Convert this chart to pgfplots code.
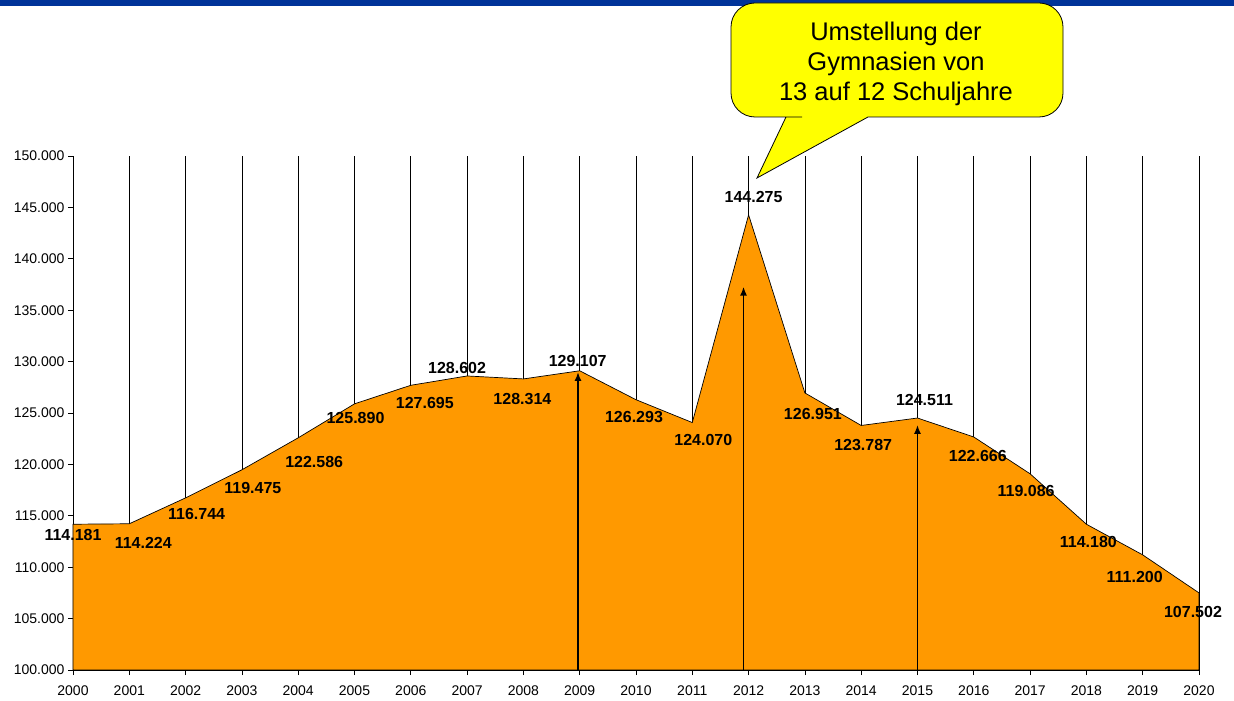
\documentclass[border=0pt]{standalone}
\usepackage{pgfplots}
\pgfplotsset{compat=1.18}
\usepackage{fontspec}
\setmainfont{Liberation Sans}
\usetikzlibrary{arrows.meta}
\definecolor{areaorange}{HTML}{FF9900}
\definecolor{calloutyellow}{HTML}{FFFF00}
\definecolor{topblue}{HTML}{003399}
\newcommand{\lbl}{\fontsize{16}{18}\selectfont\bfseries}

\begin{document}
\begin{tikzpicture}
\useasboundingbox (-73pt,-31pt) rectangle (1161pt,670pt);
\fill[topblue] (-73pt,664pt) rectangle (1161pt,670pt);
\begin{axis}[
  at={(0pt,0pt)}, anchor=south west,
  scale only axis, width=1126pt, height=514pt,
  xmin=2000, xmax=2020, ymin=100000, ymax=150000,
  xtick={2000,2001,...,2020},
  ytick={100000,105000,...,150000},
  scaled y ticks=false,
  axis lines=left,
  axis line style={-, black, line width=0.8pt},
  tick align=outside,
  major tick length=5pt,
  tick style={black, line width=0.6pt},
  xmajorgrids,
  grid style={black, line width=0.6pt},
  x tick label style={font=\fontsize{14}{16}\selectfont, yshift=-7pt, /pgf/number format/1000 sep={}, /pgf/number format/assume math mode=true},
  y tick label style={font=\fontsize{14}{16}\selectfont, /pgf/number format/fixed, /pgf/number format/1000 sep={.}, /pgf/number format/min exponent for 1000 sep=0, /pgf/number format/assume math mode=true},
  clip=false,
]
\addplot[fill=areaorange, draw=black, line width=0.7pt] coordinates {
(2000,114181) (2001,114224) (2002,116744) (2003,119475) (2004,122586)
(2005,125890) (2006,127695) (2007,128602) (2008,128314) (2009,129107)
(2010,126293) (2011,124070) (2012,144275) (2013,126951) (2014,123787)
(2015,124511) (2016,122666) (2017,119086) (2018,114180) (2019,111200)
(2020,107502)} \closedcycle;

\addplot[black, line width=1.8pt, -{Latex[length=9pt,width=7pt]}] coordinates {(2008.97,100000) (2008.97,129000)};
\addplot[black, line width=1.8pt, -{Latex[length=9pt,width=7pt]}] coordinates {(2011.91,100000) (2011.91,137300)};
\addplot[black, line width=1.8pt, -{Latex[length=9pt,width=7pt]}] coordinates {(2015.0,100000) (2015.0,123850)};

\node[font=\lbl, xshift=0pt,  yshift=-11pt] at (axis cs:2000,114181) {114.181};
\node[font=\lbl, xshift=14pt, yshift=-19pt] at (axis cs:2001,114224) {114.224};
\node[font=\lbl, xshift=11pt, yshift=-16pt] at (axis cs:2002,116744) {116.744};
\node[font=\lbl, xshift=11pt, yshift=-18pt] at (axis cs:2003,119475) {119.475};
\node[font=\lbl, xshift=16pt, yshift=-24pt] at (axis cs:2004,122586) {122.586};
\node[font=\lbl, xshift=1pt,  yshift=-14pt] at (axis cs:2005,125890) {125.890};
\node[font=\lbl, xshift=14pt, yshift=-18pt] at (axis cs:2006,127695) {127.695};
\node[font=\lbl, xshift=-10pt,yshift=8pt]   at (axis cs:2007,128602) {128.602};
\node[font=\lbl, xshift=-1pt, yshift=-20pt] at (axis cs:2008,128314) {128.314};
\node[font=\lbl, xshift=-2pt, yshift=10pt]  at (axis cs:2009,129107) {129.107};
\node[font=\lbl, xshift=-2pt, yshift=-17pt] at (axis cs:2010,126293) {126.293};
\node[font=\lbl, xshift=11pt, yshift=-17pt] at (axis cs:2011,124070) {124.070};
\node[font=\lbl, xshift=5pt,  yshift=18pt]  at (axis cs:2012,144275) {144.275};
\node[font=\lbl, xshift=8pt,  yshift=-21pt] at (axis cs:2013,126951) {126.951};
\node[font=\lbl, xshift=2pt,  yshift=-20pt] at (axis cs:2014,123787) {123.787};
\node[font=\lbl, xshift=7pt,  yshift=18pt]  at (axis cs:2015,124511) {124.511};
\node[font=\lbl, xshift=4pt,  yshift=-19pt] at (axis cs:2016,122666) {122.666};
\node[font=\lbl, xshift=-4pt, yshift=-17pt] at (axis cs:2017,119086) {119.086};
\node[font=\lbl, xshift=2pt,  yshift=-18pt] at (axis cs:2018,114180) {114.180};
\node[font=\lbl, xshift=-8pt, yshift=-22pt] at (axis cs:2019,111200) {111.200};
\node[font=\lbl, xshift=-6pt, yshift=-19pt] at (axis cs:2020,107502) {107.502};
\end{axis}

\filldraw[fill=calloutyellow, draw=black, line width=0.8pt]
  (713pt,553pt) -- (684pt,492pt) -- (795pt,553pt) -- (800pt,553pt)
  [rounded corners=24pt] -- (990pt,553pt) -- (990pt,667pt) -- (658pt,667pt) -- (658pt,553pt) -- (705pt,553pt)
  [sharp corners] -- (713pt,553pt) -- cycle;
\node[font=\fontsize{25.5}{30}\selectfont, align=center] at (823pt,606pt)
  {Umstellung der\\Gymnasien von\\13 auf 12 Schuljahre};
\end{tikzpicture}
\end{document}
